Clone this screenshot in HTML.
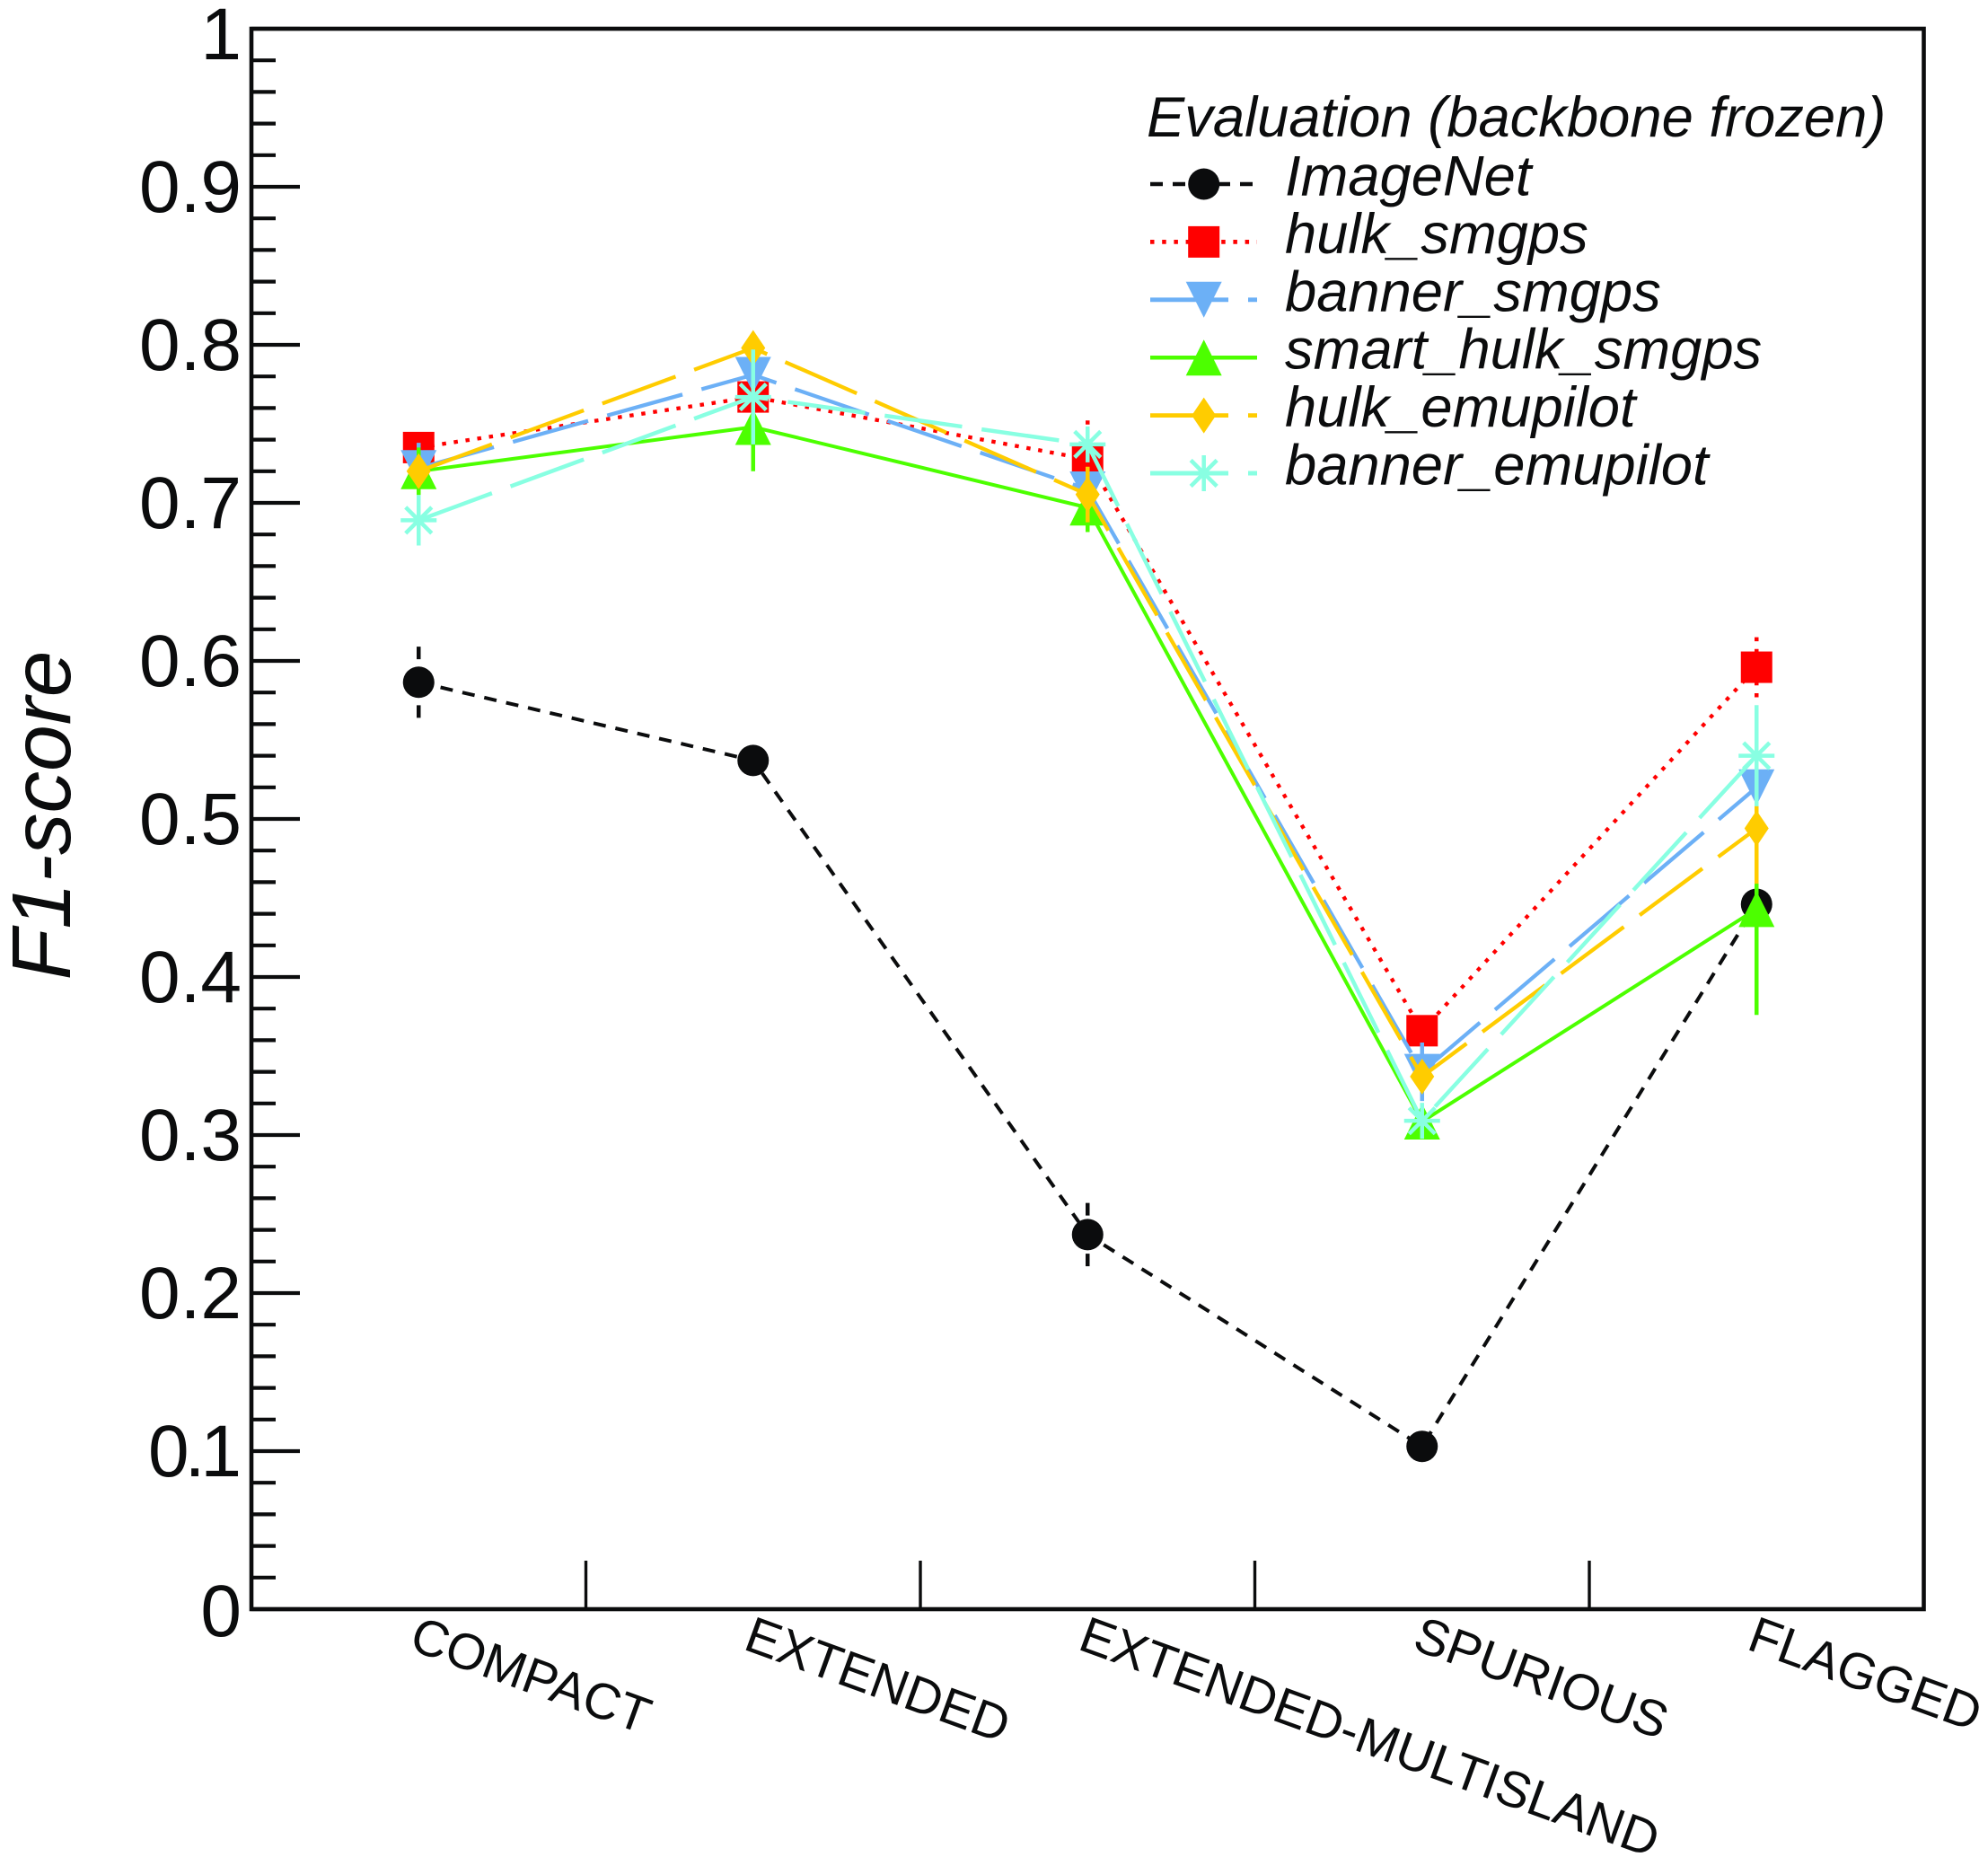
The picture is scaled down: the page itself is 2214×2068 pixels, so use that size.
<!DOCTYPE html>
<html lang="en">
<head>
<meta charset="utf-8">
<title>F1-score by source class</title>
<style>
html,body{margin:0;padding:0;background:#fff;}
svg{display:block;}
text{font-family:"Liberation Sans",Arial,sans-serif;fill:#0b0c0d;}
</style>
</head>
<body>
<svg id="chart" xmlns="http://www.w3.org/2000/svg" width="2214" height="2068" viewBox="0 0 2214 2068">
  <rect x="0" y="0" width="2214" height="2068" fill="#fff"/>
  <g id="ticks"></g>
  <g id="ytl"></g>
  <g id="xtl"></g>
  <text transform="translate(78,908) rotate(-90)" text-anchor="middle" font-size="93" font-style="italic">F1-score</text>
  <g id="plot"></g>
  <rect x="280" y="32" width="1862.5" height="1760" fill="none" stroke="#0b0c0d" stroke-width="4.6"/>
  <g id="legend">
    <text x="1277" y="152" font-size="63.3" font-style="italic">Evaluation (backbone frozen)</text>
  </g>
</svg>
<script>
const categories = ["COMPACT", "EXTENDED", "EXTENDED-MULTISLAND", "SPURIOUS", "FLAGGED"];
const yTickLabels = ["0", "0.1", "0.2", "0.3", "0.4", "0.5", "0.6", "0.7", "0.8", "0.9", "1"];
const seriesNames = ["ImageNet", "hulk_smgps", "banner_smgps", "smart_hulk_smgps", "hulk_emupilot", "banner_emupilot"];

const imagenetValues = [0.5865, 0.537, 0.237, 0.103, 0.446];
const hulkSmgpsValues = [0.735, 0.767, 0.7276, 0.366, 0.596];
const bannerSmgpsValues = [0.722, 0.781, 0.7085, 0.34, 0.52];
const smartHulkSmgpsValues = [0.72, 0.748, 0.697, 0.3085, 0.443];
const hulkEmupilotValues = [0.72, 0.798, 0.7053, 0.337, 0.494];
const bannerEmupilotValues = [0.689, 0.767, 0.737, 0.309, 0.54];

const imagenetErrors = [0.0225, 0.008, 0.02, 0.006, 0.05];
const hulkSmgpsErrors = [0.008, 0.008, 0.0245, 0.008, 0.019];
const bannerSmgpsErrors = [0.016, 0.012, 0.012, 0.0185, 0.05];
const smartHulkSmgpsErrors = [0.015, 0.028, 0.0155, 0.01, 0.067];
const hulkEmupilotErrors = [0.01, 0.008, 0.0176, 0.008, 0.035];
const bannerEmupilotErrors = [0.016, 0.03, 0.008, 0.01, 0.032];

const allValues = [imagenetValues, hulkSmgpsValues, bannerSmgpsValues, smartHulkSmgpsValues, hulkEmupilotValues, bannerEmupilotValues];
const allErrors = [imagenetErrors, hulkSmgpsErrors, bannerSmgpsErrors, smartHulkSmgpsErrors, hulkEmupilotErrors, bannerEmupilotErrors];

const seriesColors = ["#0b0c0d", "#ff0000", "#6cb0f6", "#4cff00", "#ffcc00", "#88ffe2"];
const seriesDashes = ["14 11", "4.5 8.7", "87 22", "", "87 22", "87 22"];
const seriesWidths = [4, 4.3, 4.3, 4, 4.3, 4.5];
const seriesMarkers = ["circle", "square", "down", "up", "diamond", "star"];

const NS = "http://www.w3.org/2000/svg";
const PLOT_LEFT = 280, BAND = 372.5, Y0 = 1792, Y_SPAN = 1760;
function xBand(i) { return PLOT_LEFT + BAND * i; }
function xCenter(i) { return xBand(i + 0.5); }
function yScale(v) { return Y0 - Y_SPAN * v; }
function make(tag, parent, attrs) {
  const e = document.createElementNS(NS, tag);
  for (const k in attrs) e.setAttribute(k, attrs[k]);
  parent.appendChild(e);
  return e;
}
function drawMarker(parent, type, cx, cy, color) {
  const g = make("g", parent, {});
  if (type === "circle") {
    make("circle", g, { cx: cx, cy: cy, r: 17.5, fill: color });
  } else if (type === "square") {
    make("rect", g, { x: cx - 17.5, y: cy - 17.5, width: 35, height: 35, fill: color });
  } else if (type === "down") {
    make("polygon", g, { points: [cx - 20, cy - 20, cx + 20, cy - 20, cx, cy + 20].join(","), fill: color });
  } else if (type === "up") {
    make("polygon", g, { points: [cx - 20, cy + 20, cx + 20, cy + 20, cx, cy - 20].join(","), fill: color });
  } else if (type === "diamond") {
    make("polygon", g, { points: [cx, cy - 20, cx + 13.5, cy, cx, cy + 20, cx - 13.5, cy].join(","), fill: color });
  } else {
    const sw = 4.5;
    make("line", g, { x1: cx - 20, y1: cy, x2: cx + 20, y2: cy, stroke: color, "stroke-width": sw });
    make("line", g, { x1: cx, y1: cy - 20, x2: cx, y2: cy + 20, stroke: color, "stroke-width": sw });
    make("line", g, { x1: cx - 14.5, y1: cy - 14.5, x2: cx + 14.5, y2: cy + 14.5, stroke: color, "stroke-width": sw });
    make("line", g, { x1: cx - 14.5, y1: cy + 14.5, x2: cx + 14.5, y2: cy - 14.5, stroke: color, "stroke-width": sw });
  }
  return g;
}

/* ticks */
const ticksG = document.getElementById("ticks");
const ytlG = document.getElementById("ytl");
for (let k = 0; k <= 50; k++) {
  const major = k % 5 === 0;
  const y = yScale(k / 50);
  const t = make("line", ticksG, { x1: PLOT_LEFT, y1: y, x2: PLOT_LEFT + (major ? 54 : 27), y2: y, stroke: "#0b0c0d", "stroke-width": 4.2 });
  
  
}
yTickLabels.forEach(function (label) {
  const y = yScale(parseFloat(label));
  const shift = label === "1" ? 34 : (label === "0" ? 30 : 28);
  const narrow = label === "0.1";
  const t = make("text", ytlG, { x: narrow ? 264 : 269, y: y + shift, "text-anchor": "end", "font-size": 82, "letter-spacing": narrow ? -5 : 0 });
  t.textContent = label;
  
  
});
for (let i = 1; i < categories.length; i++) {
  const x = xBand(i);
  const t = make("line", ticksG, { x1: x, y1: Y0, x2: x, y2: Y0 - 54, stroke: "#0b0c0d", "stroke-width": 3.4 });
  
  
}

/* category labels */
const xtlG = document.getElementById("xtl");
categories.forEach(function (name, i) {
  const x0 = xCenter(i) - 12.5, y0 = 1836;
  const t = make("text", xtlG, { transform: "translate(" + x0 + "," + y0 + ") rotate(20)", "font-size": 56.6 });
  t.textContent = name;
  
  
});

/* series */
const plotG = document.getElementById("plot");
allValues.forEach(function (values, s) {
  const g = make("g", plotG, {});
  
  
  const color = seriesColors[s];
  const pts = values.map(function (v, i) { return xCenter(i) + "," + yScale(v); }).join(" ");
  const poly = make("polyline", g, { points: pts, fill: "none", stroke: color, "stroke-width": seriesWidths[s], "stroke-dasharray": seriesDashes[s] });
  
  
  values.forEach(function (v, i) {
    const e = allErrors[s][i];
    const cx = xCenter(i);
    const d = "M" + cx + " " + yScale(v + e) + "L" + cx + " " + yScale(v) + "M" + cx + " " + yScale(v - e) + "L" + cx + " " + yScale(v);
    const bar = make("path", g, { d: d, fill: "none", stroke: color, "stroke-width": 4.5, "stroke-dasharray": seriesDashes[s] });
    
    
    const m = drawMarker(g, seriesMarkers[s], cx, yScale(v), color);
    
    
  });
});

/* legend */
const legendG = document.getElementById("legend");
seriesNames.forEach(function (name, s) {
  const y = 205 + 64.4 * s;
  const row = make("g", legendG, {});
  
  
  make("line", row, { x1: 1281, y1: y, x2: 1400, y2: y, stroke: seriesColors[s], "stroke-width": seriesWidths[s] + 0.5, "stroke-dasharray": seriesDashes[s] });
  drawMarker(row, seriesMarkers[s], 1340.7, y, seriesColors[s]);
  const t = make("text", row, { x: 1431, y: y + 12.5, "font-size": 63.3, "font-style": "italic" });
  t.textContent = name;
});
</script>
</body>
</html>
